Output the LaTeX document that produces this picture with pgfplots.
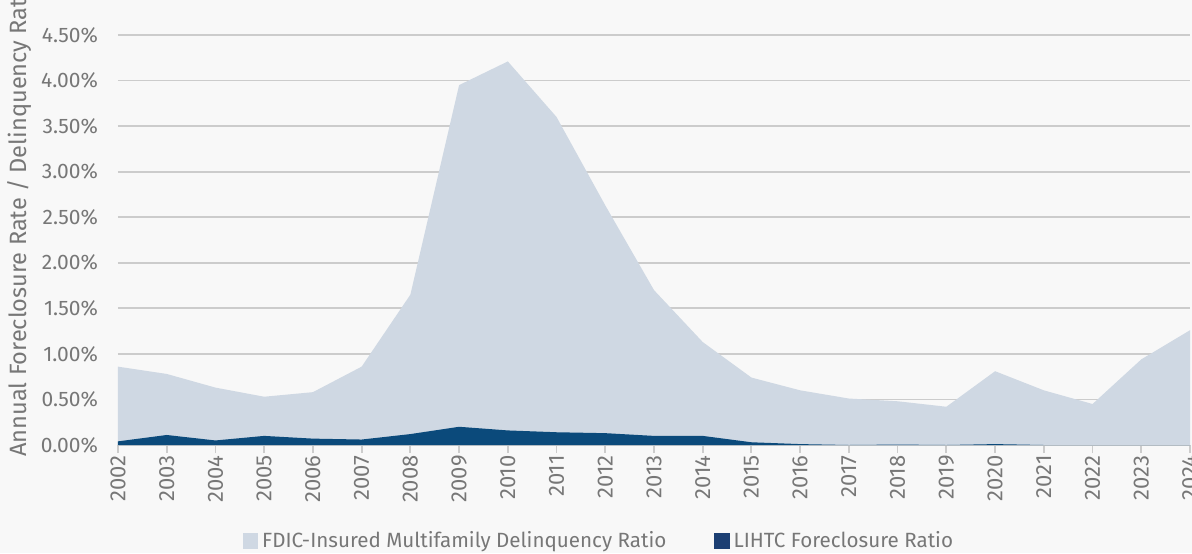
\documentclass[border=0pt]{standalone}
\usepackage{fontspec}
\setmainfont{Fira Sans}
\usepackage{pgfplots}
\pgfplotsset{compat=1.18}
\definecolor{bgc}{HTML}{F8F8F8}
\definecolor{cfdic}{HTML}{CFD8E3}
\definecolor{clihtc}{HTML}{0B4A7B}
\definecolor{clihtcleg}{HTML}{1C3F73}
\definecolor{ctxt}{HTML}{777777}
\definecolor{cgrid}{HTML}{CCCCCC}
\begin{document}
\begin{tikzpicture}
\useasboundingbox (0,0) rectangle (596pt,276.5pt);
\fill[bgc] (0,0) rectangle (596pt,276.5pt);
\begin{axis}[
  at={(59pt,54pt)}, anchor=south west,
  width=536pt, height=205pt, scale only axis,
  xmin=2002, xmax=2024, ymin=0, ymax=4.5,
  axis x line*=bottom, axis y line*=left,
  x axis line style={cgrid, line width=1pt},
  y axis line style={draw=none},
  xtick={2002,...,2024},
  ytick={0,0.5,...,4.5},
  ymajorgrids, grid style={cgrid, line width=0.9pt},
  major x tick style={cgrid, line width=0.9pt},
  major y tick style={draw=none},
  xtick align=outside, major tick length=4pt,
  /pgf/number format/assume math mode=true,
  /pgf/number format/1000 sep={},
  xticklabel style={rotate=90, anchor=east, font=\fontsize{11}{12}\selectfont, text=ctxt, inner sep=1pt},
  yticklabel style={font=\fontsize{10.5}{11}\selectfont, text=ctxt, xshift=-6.5pt},
  yticklabel={\pgfmathprintnumber[fixed,fixed zerofill,precision=2]{\tick}\%},
  legend columns=2,
  legend style={at={(0.5,0)}, anchor=center, xshift=-27pt, yshift=-48pt,
    draw=none, fill=none, font=\fontsize{10.3}{11}\selectfont, text=ctxt,
    /tikz/every even column/.append style={column sep=22pt}},
  legend image code/.code={\fill[#1] (0pt,-3.8pt) rectangle (7.6pt,3.8pt);},
  clip=false,
]
\addplot[fill=cfdic, draw=none] coordinates {
(2002,0.86) (2003,0.78) (2004,0.63) (2005,0.53) (2006,0.58) (2007,0.86)
(2008,1.65) (2009,3.95) (2010,4.21) (2011,3.60) (2012,2.63) (2013,1.70)
(2014,1.13) (2015,0.74) (2016,0.60) (2017,0.51) (2018,0.48) (2019,0.42)
(2020,0.81) (2021,0.60) (2022,0.45) (2023,0.94) (2024,1.26)} \closedcycle;
\addlegendentry{FDIC-Insured Multifamily Delinquency Ratio}
\addplot[fill=clihtc, draw=none, legend image code/.code={\fill[clihtcleg] (0pt,-3.8pt) rectangle (7.6pt,3.8pt);}] coordinates {
(2002,0.04) (2003,0.11) (2004,0.05) (2005,0.10) (2006,0.07) (2007,0.06)
(2008,0.12) (2009,0.20) (2010,0.16) (2011,0.14) (2012,0.13) (2013,0.10)
(2014,0.10) (2015,0.03) (2016,0.01) (2017,0.00) (2018,0.005) (2019,0.00)
(2020,0.01) (2021,0.00) (2022,0.00) (2023,0.00) (2024,0.00)} \closedcycle;
\addlegendentry{LIHTC Foreclosure Ratio}
\end{axis}
\node[rotate=90, anchor=west, inner sep=0pt, text=ctxt, font=\fontsize{11.8}{12}\selectfont] at (9.5pt,48pt) {Annual Foreclosure Rate / Delinquency Rate};
\end{tikzpicture}
\end{document}
